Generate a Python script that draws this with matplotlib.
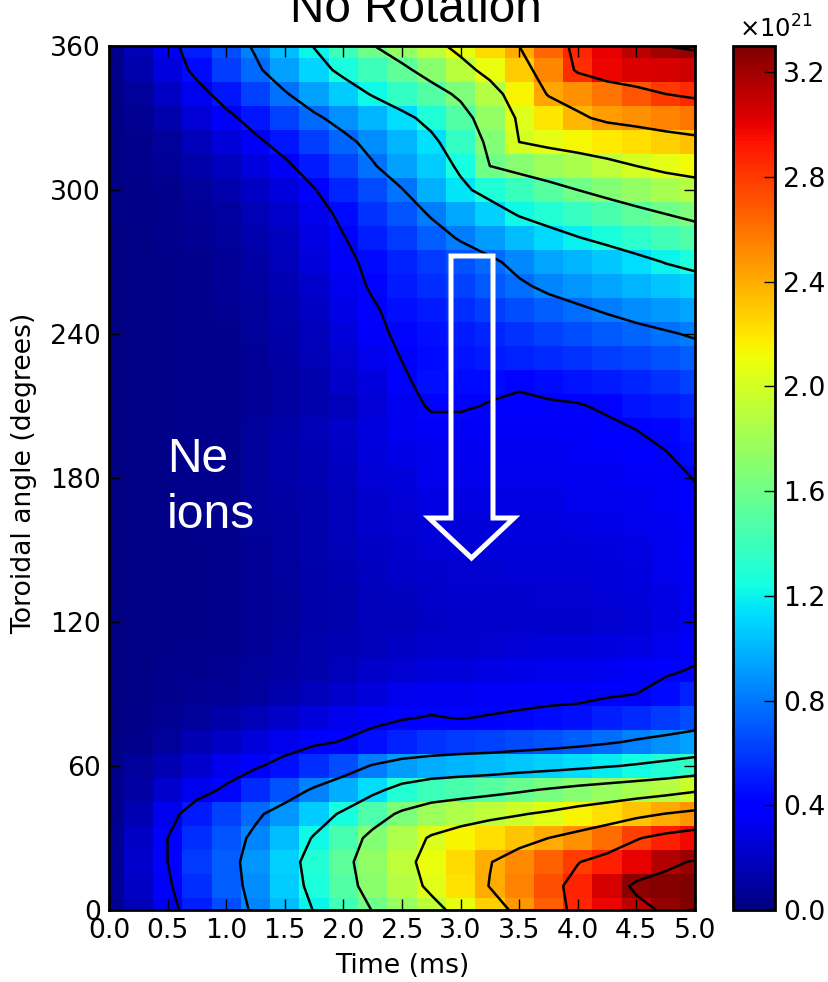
import numpy as np
import matplotlib
matplotlib.use("Agg")
import matplotlib.pyplot as plt
from matplotlib.patches import Polygon
from matplotlib.cm import ScalarMappable
from matplotlib.colors import Normalize

plt.rcParams['mathtext.fontset'] = 'dejavusans'

time_ms = [0, .25, .5, .75, 1, 1.25, 1.5, 1.75, 2, 2.25, 2.5, 2.75, 3, 3.25, 3.5, 3.75, 4, 4.25, 4.5, 4.75, 5]
angles_top_down = [360, 350, 340, 330, 320, 310, 300, 290, 280, 270, 260, 250, 240, 230, 220, 210, 200, 190, 180,
                   170, 160, 150, 140, 130, 120, 110, 100, 90, 80, 70, 60, 50, 40, 30, 20, 10, 0]
# Ne ion density, units of 1e21; one row per angle, one value per time
density = [
 [.04,.16,.33,.51,.67,.83,1.02,1.21,1.40,1.59,1.75,1.91,2.08,2.24,2.40,2.65,2.87,3.00,3.12,3.20,3.23],
 [.03,.13,.28,.45,.61,.76,.93,1.10,1.26,1.40,1.54,1.71,1.90,2.09,2.29,2.53,2.84,2.98,3.03,3.05,3.07],
 [.02,.09,.20,.33,.48,.63,.78,.93,1.07,1.22,1.36,1.49,1.65,1.88,2.15,2.42,2.50,2.60,2.70,2.80,2.85],
 [.02,.06,.14,.25,.35,.48,.62,.76,.88,1.00,1.13,1.28,1.49,1.75,2.04,2.20,2.36,2.45,2.50,2.55,2.58],
 [.02,.05,.09,.17,.27,.36,.48,.61,.74,.87,1.00,1.14,1.36,1.67,2.00,2.07,2.13,2.18,2.22,2.28,2.33],
 [.02,.04,.07,.12,.19,.28,.36,.50,.64,.78,.93,1.07,1.24,1.60,1.70,1.78,1.84,1.92,2.00,2.07,2.12],
 [.02,.03,.05,.09,.14,.20,.28,.39,.53,.65,.79,.98,1.15,1.28,1.39,1.50,1.60,1.68,1.75,1.82,1.87],
 [.02,.03,.04,.07,.10,.16,.23,.31,.45,.57,.69,.82,.96,1.09,1.22,1.30,1.37,1.45,1.53,1.60,1.66],
 [.01,.02,.04,.06,.09,.13,.19,.29,.39,.51,.60,.71,.82,.92,1.02,1.11,1.19,1.26,1.34,1.41,1.47],
 [.01,.02,.03,.05,.07,.11,.17,.26,.36,.44,.52,.60,.68,.76,.86,.95,1.00,1.06,1.13,1.21,1.27],
 [.01,.02,.03,.05,.07,.10,.15,.23,.33,.42,.49,.56,.63,.70,.77,.84,.89,.95,1.00,1.05,1.09],
 [.01,.02,.03,.04,.06,.09,.14,.20,.30,.38,.46,.50,.56,.61,.67,.72,.77,.82,.87,.91,.95],
 [.01,.02,.03,.04,.05,.08,.12,.18,.27,.36,.43,.46,.50,.54,.58,.62,.66,.70,.74,.78,.82],
 [.01,.02,.03,.04,.05,.07,.11,.16,.24,.32,.405,.45,.47,.49,.52,.55,.58,.61,.64,.68,.72],
 [.01,.02,.03,.04,.05,.07,.10,.14,.21,.28,.37,.46,.45,.44,.42,.45,.47,.50,.54,.58,.63],
 [.01,.02,.03,.04,.05,.07,.10,.13,.18,.25,.33,.42,.42,.39,.37,.38,.39,.42,.47,.50,.54],
 [.01,.02,.03,.04,.05,.08,.12,.16,.21,.28,.33,.34,.34,.34,.34,.34,.35,.37,.40,.43,.47],
 [.01,.02,.03,.04,.05,.08,.12,.15,.20,.26,.30,.32,.33,.33,.33,.33,.34,.35,.37,.395,.44],
 [.01,.02,.03,.04,.05,.08,.12,.15,.19,.25,.27,.31,.31,.31,.31,.31,.33,.33,.34,.36,.405],
 [.01,.02,.03,.04,.05,.08,.11,.14,.18,.23,.25,.29,.29,.29,.29,.29,.31,.32,.33,.34,.38],
 [.01,.02,.03,.04,.05,.08,.10,.13,.17,.22,.24,.27,.27,.27,.28,.28,.29,.30,.31,.33,.36],
 [.01,.02,.03,.03,.04,.07,.10,.13,.16,.20,.22,.25,.25,.26,.26,.26,.27,.28,.29,.32,.35],
 [.01,.02,.03,.03,.04,.07,.10,.12,.15,.19,.21,.23,.24,.24,.25,.25,.25,.27,.28,.31,.34],
 [.01,.02,.03,.03,.04,.07,.09,.12,.14,.18,.19,.21,.22,.23,.23,.24,.24,.25,.26,.29,.33],
 [.01,.02,.03,.03,.04,.07,.09,.12,.14,.17,.18,.20,.21,.22,.22,.23,.23,.24,.25,.29,.33],
 [.01,.02,.03,.04,.05,.07,.10,.13,.15,.18,.20,.22,.23,.24,.25,.26,.27,.28,.29,.32,.36],
 [.01,.02,.04,.05,.06,.08,.11,.14,.17,.21,.24,.26,.27,.29,.30,.31,.32,.33,.35,.38,.41],
 [.01,.02,.04,.06,.07,.10,.14,.18,.22,.27,.31,.33,.33,.34,.34,.35,.36,.38,.40,.45,.52],
 [.01,.03,.06,.09,.12,.16,.21,.27,.32,.36,.39,.41,.395,.41,.43,.45,.46,.51,.55,.60,.66],
 [.02,.05,.09,.15,.20,.26,.32,.37,.41,.46,.52,.57,.60,.62,.65,.68,.72,.77,.83,.88,.93],
 [.03,.08,.15,.23,.31,.38,.46,.56,.67,.82,.92,.97,1.00,1.02,1.06,1.09,1.13,1.18,1.23,1.29,1.36],
 [.04,.11,.22,.33,.43,.55,.68,.83,.97,1.13,1.30,1.40,1.45,1.50,1.56,1.63,1.70,1.76,1.82,1.88,1.96],
 [.05,.15,.33,.50,.62,.76,.90,1.07,1.24,1.46,1.65,1.78,1.85,1.92,1.98,2.05,2.14,2.22,2.32,2.41,2.48],
 [.06,.20,.40,.56,.69,.85,1.03,1.22,1.44,1.68,1.85,2.03,2.14,2.23,2.31,2.40,2.50,2.62,2.78,2.89,2.97],
 [.07,.22,.40,.60,.72,.89,1.09,1.30,1.53,1.73,1.92,2.09,2.24,2.39,2.52,2.66,2.79,2.90,3.00,3.15,3.22],
 [.07,.20,.37,.56,.71,.87,1.07,1.27,1.49,1.71,1.88,2.05,2.21,2.41,2.55,2.72,2.88,3.05,3.25,3.28,3.30],
 [.06,.17,.33,.51,.67,.84,1.02,1.21,1.41,1.61,1.76,1.92,2.08,2.27,2.47,2.68,2.87,2.98,3.12,3.24,3.30],
]
contour_levels = [.4, .8, 1.2, 1.6, 2.0, 2.4, 2.8, 3.2]
x_ticks = [0, .5, 1, 1.5, 2, 2.5, 3, 3.5, 4, 4.5, 5]
y_ticks = [0, 60, 120, 180, 240, 300, 360]
cbar_ticks = [0, .4, .8, 1.2, 1.6, 2.0, 2.4, 2.8, 3.2]

W, H = 829, 982
LABEL = 19.2
fig = plt.figure(figsize=(W / 100, H / 100), dpi=100)
ax = fig.add_axes([109 / W, 1 - 910 / H, 586 / W, 864 / H])
cax = fig.add_axes([733 / W, 1 - 910 / H, 42 / W, 864 / H])

Z = np.array(density)
norm = Normalize(0, 3.3)
ax.pcolormesh(time_ms, angles_top_down, Z, cmap='jet', norm=norm, shading='nearest')
ax.contour(time_ms, angles_top_down, Z, levels=contour_levels, colors='k', linewidths=1.8)
ax.set_xlim(0, 5)
ax.set_ylim(0, 360)
ax.set_xticks(x_ticks)
ax.set_xticklabels([f'{v:.1f}' for v in x_ticks])
ax.set_yticks(y_ticks)
ax.tick_params(direction='in', top=True, right=True, length=8, width=1, labelsize=LABEL, pad=6, color='k')
ax.set_xlabel('Time (ms)', fontsize=LABEL, va='center')
ax.xaxis.set_label_coords(.5, (910 - 966) / 864)
ax.set_ylabel('Toroidal angle (degrees)', fontsize=LABEL, va='center')
ax.yaxis.set_label_coords((24 - 109) / 586, (910 - 473.5) / 864)
for s in ax.spines.values():
    s.set_linewidth(2)
fig.text(416 / W, 1 - 22 / H, 'No Rotation', fontsize=34.4, family='Liberation Sans', ha='center', va='baseline')

cb = fig.colorbar(ScalarMappable(norm=norm, cmap='jet'), cax=cax)
cb.set_ticks(cbar_ticks)
cb.set_ticklabels([f'{v:.1f}' for v in cbar_ticks])
cax.tick_params(direction='in', length=8, width=1, labelsize=LABEL, pad=6)
cb.outline.set_linewidth(2)
cax.text(0.14, 1.004, r'$\times10^{21}$', transform=cax.transAxes, fontsize=17.5, ha='left', va='bottom')

ax.text(.495, 182.6, 'Ne', color='w', fontsize=34.6, family='Liberation Sans', ha='left', va='baseline')
ax.text(.495, 159.0, 'ions', color='w', fontsize=34.6, family='Liberation Sans', ha='left', va='baseline')

arrow_px = [(451, 256), (493, 256), (493, 518), (514, 518), (471.5, 558), (429, 518), (451, 518)]
arrow = Polygon([(x / W, 1 - y / H) for x, y in arrow_px], closed=True, transform=fig.transFigure,
                facecolor='none', edgecolor='w', linewidth=3.6, joinstyle='miter', zorder=5)
fig.add_artist(arrow)

fig.savefig('out.png', dpi=100)
